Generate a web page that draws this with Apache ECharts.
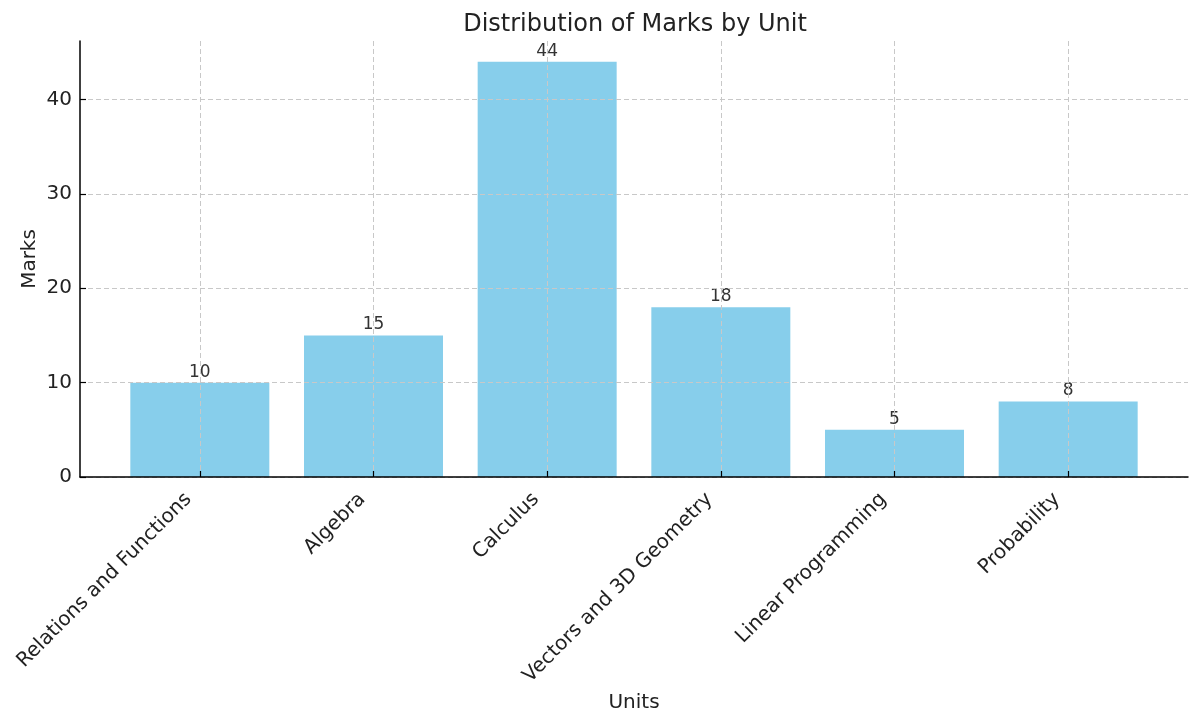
<!DOCTYPE html>
<html>
	<head>
		<meta charset="utf-8">
		<title>Distribution of Marks by Unit</title>
		<style type="text/css">
			html,body {
				margin: 0;
				padding: 0;
				background: #FFFFFF;
			}
			#chart {
				width: 1200px;
				height: 725px;
			}
		</style>
	</head>
	<body>
		<div id="chart"></div>
	</body>
</html>
<script src="https://cdn.jsdelivr.net/npm/echarts@6/dist/echarts.min.js" type="text/javascript" charset="utf-8"></script>
<script type="text/javascript">
	// 数据
	var units = ['Relations and Functions', 'Algebra', 'Calculus', 'Vectors and 3D Geometry', 'Linear Programming', 'Probability'];
	var marks = [10, 15, 44, 18, 5, 8];
	var yTicks = [0, 10, 20, 30, 40];

	var positions = units.map(function (u, i) { return i; });
	var barData = marks.map(function (v, i) { return [positions[i], v]; });

	var myChart = echarts.init(document.getElementById('chart'));
	var font = 'DejaVu Sans';
	var option = {
		animation: false,
		title: {
			text: 'Distribution of Marks by Unit',
			left: 630,
			textAlign: 'center',
			top: 8,
			textStyle: {
				fontFamily: font,
				fontSize: 24,
				fontWeight: 'normal',
				color: '#222222'
			}
		},
		grid: {
			left: 80,
			right: 12,
			top: 41,
			bottom: 248,
			outerBoundsMode: 'none',
			containLabel: false
		},
		xAxis: {
			type: 'value',
			min: -0.69,
			max: 5.69,
			z: 5,
			name: 'Units',
			nameLocation: 'middle',
			nameGap: 216,
			nameMoveOverlap: false,
			nameTextStyle: { fontFamily: font, fontSize: 20, color: '#222222' },
			axisLine: { show: true, onZero: false, lineStyle: { color: '#000000', width: 1.5 } },
			axisTick: {
				show: true,
				inside: true,
				length: 6,
				customValues: positions,
				lineStyle: { color: '#000000', width: 1.2 }
			},
			axisLabel: {
				customValues: positions,
				rotate: 45,
				margin: 8,
				padding: [0, 16, 0, 0],
				fontFamily: font,
				fontSize: 20,
				color: '#222222',
				formatter: function (v) {
					return units[Math.round(v)];
				}
			},
			splitLine: {
				show: true,
				lineStyle: { color: '#c8c8c8', type: [5, 3], width: 1 }
			}
		},
		yAxis: {
			type: 'value',
			min: 0,
			max: 46.2,
			z: 5,
			name: 'Marks',
			nameLocation: 'middle',
			nameGap: 40,
			nameMoveOverlap: false,
			nameTextStyle: { fontFamily: font, fontSize: 20, color: '#222222' },
			axisLine: { show: true, onZero: false, lineStyle: { color: '#000000', width: 1.5 } },
			axisTick: {
				show: true,
				inside: true,
				length: 6,
				customValues: yTicks,
				lineStyle: { color: '#000000', width: 1.2 }
			},
			axisLabel: {
				customValues: yTicks,
				margin: 8,
				fontFamily: font,
				fontSize: 20,
				color: '#222222'
			},
			splitLine: {
				show: true,
				lineStyle: { color: '#c8c8c8', type: [5, 3], width: 1 }
			}
		},
		series: [{
			type: 'bar',
			data: barData,
			barWidth: 139,
			itemStyle: { color: '#87CEEB' },
			label: {
				show: true,
				position: 'top',
				distance: 2,
				fontFamily: font,
				fontSize: 17,
				color: '#333333',
				formatter: function (p) { return p.value[1]; }
			}
		}]
	};
	myChart.setOption(option);
</script>
